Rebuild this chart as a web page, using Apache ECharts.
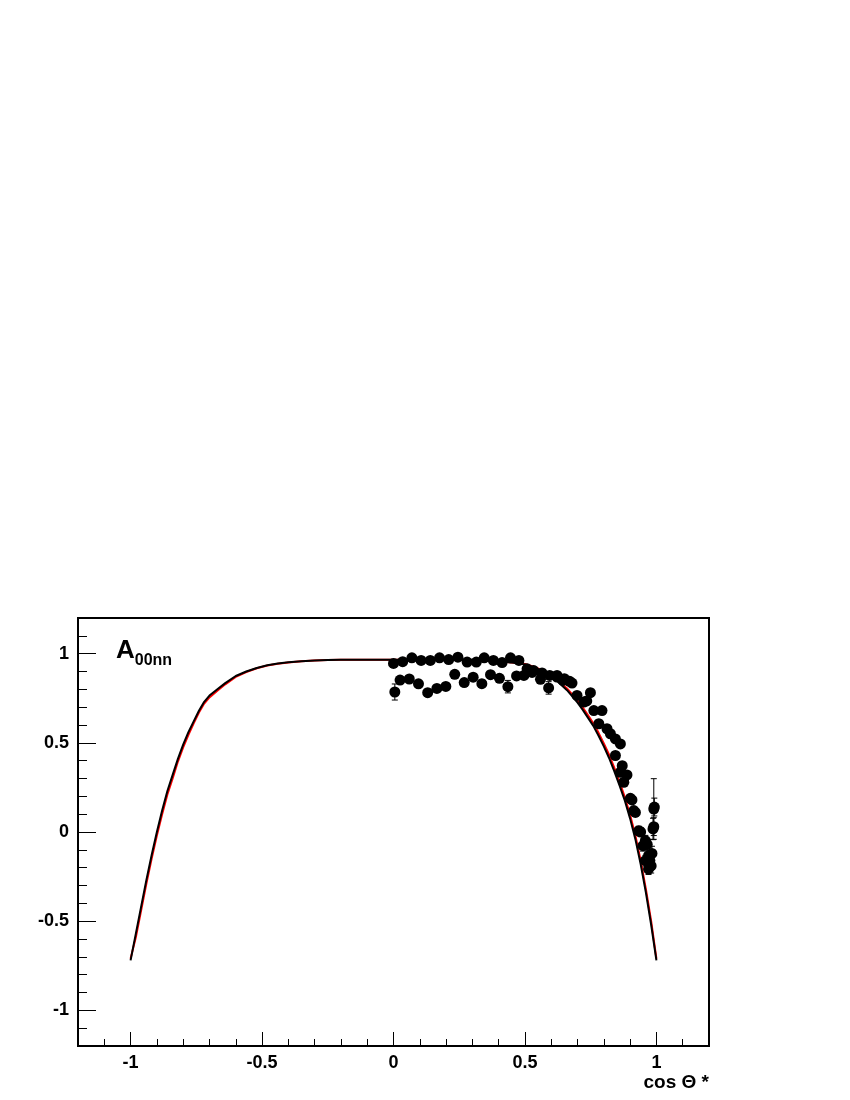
<!DOCTYPE html>
<html>
<head>
<meta charset="utf-8">
<script src="https://cdn.jsdelivr.net/npm/echarts@6/dist/echarts.min.js"></script>
<style>
html,body{margin:0;padding:0;background:#fff;}
#chart{width:850px;height:1100px;}
</style>
</head>
<body>
<div id="chart"></div>
<script>
// ---- Axis ticks ----
var xMajorTicks = [-1, -0.5, 0, 0.5, 1];
var xMinorTicks = [-1.1, -0.9, -0.8, -0.7, -0.6, -0.4, -0.3, -0.2, -0.1, 0.1, 0.2, 0.3, 0.4, 0.6, 0.7, 0.8, 0.9, 1.1];
var yMajorTicks = [-1, -0.5, 0, 0.5, 1];
var yMinorTicks = [-1.1, -0.9, -0.8, -0.7, -0.6, -0.4, -0.3, -0.2, -0.1, 0.1, 0.2, 0.3, 0.4, 0.6, 0.7, 0.8, 0.9, 1.1];

// ---- Theory curves ----
var curveX = [-1, -0.98, -0.96, -0.94, -0.92, -0.9, -0.88, -0.86, -0.84, -0.82, -0.8, -0.78, -0.76, -0.74, -0.72, -0.7, -0.67, -0.64, -0.6, -0.56, -0.52, -0.48, -0.44, -0.4, -0.35, -0.3, -0.25, -0.2, -0.1, 0, 0.1, 0.2, 0.25, 0.3, 0.35, 0.4, 0.45, 0.5, 0.54, 0.58, 0.62, 0.66, 0.7, 0.72, 0.74, 0.76, 0.78, 0.8, 0.82, 0.84, 0.86, 0.88, 0.9, 0.92, 0.94, 0.96, 0.98, 1];
var curveBlack = [-0.72, -0.57, -0.42, -0.27, -0.13, 0.0, 0.12, 0.23, 0.32, 0.41, 0.49, 0.56, 0.62, 0.68, 0.73, 0.765, 0.80, 0.835, 0.875, 0.90, 0.92, 0.935, 0.945, 0.952, 0.958, 0.962, 0.965, 0.966, 0.966, 0.966, 0.966, 0.966, 0.965, 0.964, 0.961, 0.956, 0.95, 0.94, 0.92, 0.89, 0.85, 0.795, 0.725, 0.685, 0.64, 0.595, 0.54, 0.48, 0.415, 0.34, 0.26, 0.175, 0.075, -0.04, -0.18, -0.34, -0.52, -0.72];
var curveRed = [-0.71, -0.59, -0.44, -0.29, -0.15, -0.02, 0.10, 0.21, 0.30, 0.395, 0.475, 0.545, 0.61, 0.67, 0.72, 0.755, 0.792, 0.828, 0.87, 0.897, 0.918, 0.934, 0.944, 0.951, 0.957, 0.962, 0.965, 0.966, 0.966, 0.966, 0.966, 0.966, 0.965, 0.964, 0.961, 0.957, 0.951, 0.942, 0.924, 0.895, 0.857, 0.805, 0.737, 0.698, 0.655, 0.61, 0.556, 0.497, 0.433, 0.36, 0.28, 0.195, 0.095, -0.02, -0.16, -0.32, -0.50, -0.71];

// ---- Data points (upper branch) ----
var upperX = [0.00, 0.035, 0.07, 0.105, 0.14, 0.175, 0.21, 0.245, 0.28, 0.315, 0.345, 0.38, 0.413, 0.445, 0.477, 0.508, 0.533, 0.565, 0.594, 0.622, 0.65, 0.679];
var upperY = [0.945, 0.955, 0.977, 0.962, 0.962, 0.977, 0.967, 0.98, 0.953, 0.953, 0.977, 0.962, 0.95, 0.977, 0.962, 0.915, 0.905, 0.892, 0.878, 0.869, 0.86, 0.835];
var upperErr = [0.015, 0.015, 0.015, 0.015, 0.015, 0.015, 0.015, 0.015, 0.015, 0.015, 0.015, 0.015, 0.015, 0.015, 0.015, 0.015, 0.015, 0.015, 0.015, 0.015, 0.015, 0.015];

// ---- Data points (lower branch) ----
var lowerX = [0.005, 0.025, 0.06, 0.095, 0.13, 0.165, 0.199, 0.233, 0.269, 0.303, 0.336, 0.369, 0.403, 0.435, 0.468, 0.496, 0.527, 0.559, 0.59, 0.622, 0.645, 0.67];
var lowerY = [0.785, 0.852, 0.858, 0.831, 0.781, 0.805, 0.816, 0.884, 0.838, 0.868, 0.832, 0.882, 0.862, 0.815, 0.875, 0.878, 0.895, 0.856, 0.808, 0.878, 0.85, 0.845];
var lowerErr = [0.045, 0.02, 0.02, 0.02, 0.02, 0.02, 0.02, 0.02, 0.02, 0.02, 0.02, 0.02, 0.02, 0.035, 0.02, 0.02, 0.02, 0.02, 0.035, 0.02, 0.02, 0.02];

// ---- Data points (forward tail) ----
var tailX = [0.698, 0.724, 0.735, 0.749, 0.762, 0.781, 0.793, 0.812, 0.825, 0.844, 0.844, 0.863, 0.863, 0.87, 0.876, 0.888, 0.901, 0.907, 0.914, 0.92, 0.933, 0.94, 0.949, 0.958, 0.958, 0.965, 0.97, 0.97, 0.975, 0.98, 0.983, 0.987, 0.99, 0.99, 0.992];
var tailY = [0.766, 0.729, 0.735, 0.781, 0.681, 0.607, 0.681, 0.579, 0.551, 0.522, 0.429, 0.494, 0.335, 0.372, 0.279, 0.32, 0.189, 0.18, 0.12, 0.11, 0.007, 0.0, -0.077, -0.049, -0.161, -0.07, -0.133, -0.208, -0.16, -0.19, -0.12, 0.017, 0.03, 0.129, 0.14];
var tailErr = [0.02, 0.02, 0.02, 0.02, 0.02, 0.02, 0.02, 0.02, 0.02, 0.02, 0.02, 0.02, 0.02, 0.02, 0.02, 0.02, 0.02, 0.02, 0.02, 0.02, 0.025, 0.025, 0.03, 0.03, 0.03, 0.03, 0.03, 0.03, 0.05, 0.04, 0.04, 0.06, 0.05, 0.17, 0.05];

function toPts(xs, ys) { return xs.map(function (x, i) { return [x, ys[i]]; }); }
function toErr(xs, ys, es) { return xs.map(function (x, i) { return [x, ys[i], es[i]]; }); }

var allPts = toPts(upperX, upperY).concat(toPts(lowerX, lowerY)).concat(toPts(tailX, tailY));
var allErr = toErr(upperX, upperY, upperErr).concat(toErr(lowerX, lowerY, lowerErr)).concat(toErr(tailX, tailY, tailErr));

var FONT = '"Liberation Sans", Arial, Helvetica, sans-serif';

var chart = echarts.init(document.getElementById('chart'), null, { renderer: 'canvas' });

function errRender(params, api) {
  var x = api.value(0), y = api.value(1), e = api.value(2);
  var top = api.coord([x, y + e]);
  var bot = api.coord([x, y - e]);
  var cap = 3;
  var st = { stroke: '#000', lineWidth: 1 };
  return {
    type: 'group',
    children: [
      { type: 'line', shape: { x1: top[0], y1: top[1], x2: bot[0], y2: bot[1] }, style: st },
      { type: 'line', shape: { x1: top[0] - cap, y1: top[1], x2: top[0] + cap, y2: top[1] }, style: st },
      { type: 'line', shape: { x1: bot[0] - cap, y1: bot[1], x2: bot[0] + cap, y2: bot[1] }, style: st }
    ]
  };
}

var option = {
  animation: false,
  backgroundColor: '#fff',
  title: {
    text: '{a|A}{s|00nn}',
    left: 111,
    top: 629,
    textStyle: {
      rich: {
        a: { fontFamily: FONT, fontWeight: 'bold', fontSize: 26, color: '#000', lineHeight: 30, verticalAlign: 'bottom' },
        s: { fontFamily: FONT, fontWeight: 'bold', fontSize: 16, color: '#000', lineHeight: 16, verticalAlign: 'bottom', padding: [0, 0, -5, 0] }
      }
    }
  },
  grid: {
    left: 78, right: 141, top: 618, bottom: 54,
    show: true, borderColor: '#000', borderWidth: 2, backgroundColor: 'transparent',
    containLabel: false
  },
  xAxis: [
    {
      type: 'value', min: -1.2, max: 1.2,
      axisLine: { show: true, onZero: false, lineStyle: { color: '#000', width: 2 } },
      axisTick: { show: true, inside: true, length: 14, customValues: xMajorTicks, lineStyle: { color: '#000', width: 1 } },
      axisLabel: { show: true, customValues: xMajorTicks, margin: 8, color: '#000', fontFamily: FONT, fontWeight: 'bold', fontSize: 18 },
      splitLine: { show: false }
    },
    {
      type: 'value', min: -1.2, max: 1.2, position: 'bottom',
      axisLine: { show: false, onZero: false },
      axisTick: { show: true, inside: true, length: 7, customValues: xMinorTicks, lineStyle: { color: '#000', width: 1 } },
      axisLabel: { show: false },
      splitLine: { show: false }
    }
  ],
  yAxis: [
    {
      type: 'value', min: -1.2, max: 1.2,
      axisLine: { show: true, onZero: false, lineStyle: { color: '#000', width: 2 } },
      axisTick: { show: true, inside: true, length: 18, customValues: yMajorTicks, lineStyle: { color: '#000', width: 1 } },
      axisLabel: { show: true, customValues: yMajorTicks, margin: 9, color: '#000', fontFamily: FONT, fontWeight: 'bold', fontSize: 18 },
      splitLine: { show: false }
    },
    {
      type: 'value', min: -1.2, max: 1.2, position: 'left',
      axisLine: { show: false, onZero: false },
      axisTick: { show: true, inside: true, length: 9, customValues: yMinorTicks, lineStyle: { color: '#000', width: 1 } },
      axisLabel: { show: false },
      splitLine: { show: false }
    }
  ],
  graphic: [
    {
      type: 'text', right: 141, top: 1073,
      style: { text: 'cos \u0398 *', fontFamily: FONT, fontWeight: 'bold', fontSize: 19, fill: '#000' }
    }
  ],
  series: [
    {
      name: 'red', type: 'line', xAxisIndex: 0, yAxisIndex: 0,
      data: toPts(curveX, curveRed), showSymbol: false, symbol: 'none',
      lineStyle: { color: '#ff0000', width: 2 }, z: 2
    },
    {
      name: 'black', type: 'line', xAxisIndex: 0, yAxisIndex: 0,
      data: toPts(curveX, curveBlack), showSymbol: false, symbol: 'none',
      lineStyle: { color: '#000', width: 2 }, z: 3
    },
    {
      name: 'errors', type: 'custom', xAxisIndex: 0, yAxisIndex: 0,
      renderItem: errRender, data: allErr, z: 4, silent: true
    },
    {
      name: 'data', type: 'scatter', xAxisIndex: 0, yAxisIndex: 0,
      data: allPts, symbol: 'circle', symbolSize: 11,
      itemStyle: { color: '#000', opacity: 1 }, z: 5
    }
  ]
};
chart.setOption(option);
</script>
</body>
</html>
